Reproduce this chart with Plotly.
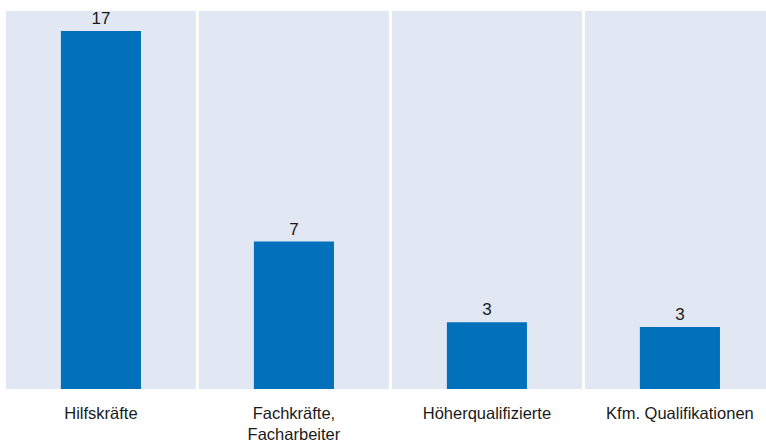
import plotly.graph_objects as go

categories = ["Hilfskräfte", "Fachkräfte,<br>Facharbeiter", "Höherqualifizierte", "Kfm. Qualifikationen"]
values = [17.0, 7.0, 3.17, 2.95]

BAR = "#0071BA"
BG = "#E1E8F4"
FONT = "Liberation Sans, Arial, sans-serif"

x = list(range(len(categories)))

fig = go.Figure()
fig.add_trace(go.Bar(
    x=x, y=values, width=0.415,
    marker=dict(color=BAR, line=dict(width=0)),
    texttemplate="%{y:.0f}", textposition="outside",
    textfont=dict(family=FONT, size=17, color="#1a1a1a"),
    cliponaxis=False, hoverinfo="skip",
))

half_gap = 0.0078
for i in x:
    fig.add_shape(type="rect", xref="x", yref="paper",
                  x0=i - 0.5 + half_gap, x1=i + 0.5 - half_gap, y0=0, y1=1,
                  fillcolor=BG, line=dict(width=0), layer="below")

fig.update_layout(
    width=766, height=444,
    margin=dict(l=0, r=0, t=11, b=55),
    plot_bgcolor="white", paper_bgcolor="white",
    showlegend=False,
    font=dict(family=FONT, size=17, color="#1a1a1a"),
    xaxis=dict(range=[-0.523, 3.446], tickmode="array", tickvals=x, ticktext=categories,
               showgrid=False, zeroline=False, showline=False, ticks="", automargin=False,
               ticklabelstandoff=12, tickfont=dict(family=FONT, size=16.5, color="#1a1a1a")),
    yaxis=dict(range=[0, 17.95], visible=False, showgrid=False, zeroline=False, automargin=False),
)

fig.write_html("out.html")
